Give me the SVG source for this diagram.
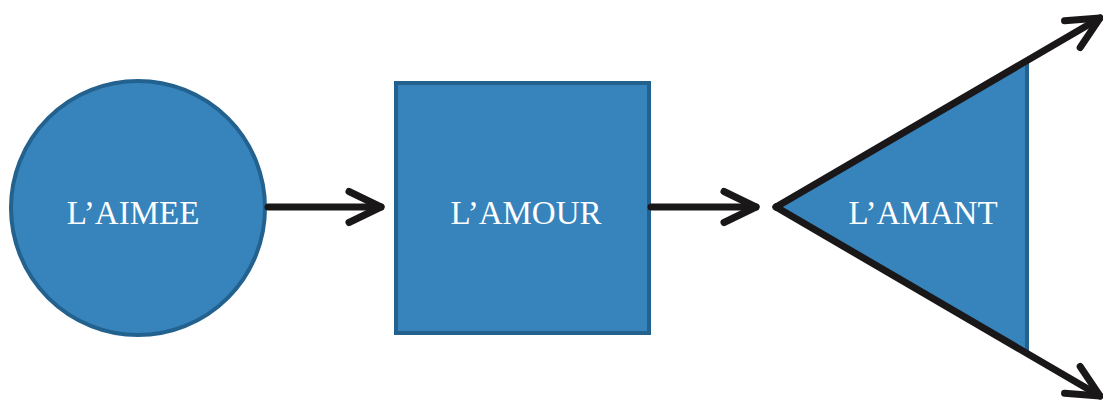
<svg xmlns="http://www.w3.org/2000/svg" width="1103" height="403" viewBox="0 0 1103 403">
<style>
.shape{fill:#3784bd;stroke:#23618f;stroke-width:4}
.lbl{font-family:"Liberation Serif","Times New Roman",serif;font-size:33px;fill:#ffffff;text-anchor:middle}
.conn{fill:none;stroke:#1a1718;stroke-width:7;stroke-linecap:round;stroke-linejoin:round}
</style>
<defs>
<marker id="chev" markerUnits="userSpaceOnUse" markerWidth="60" markerHeight="60" refX="0" refY="0" viewBox="-40 -30 60 60" orient="auto" overflow="visible">
<path d="M -32 -15.5 L 0 0 L -32 15.5" fill="none" stroke="#1a1718" stroke-width="7" stroke-linecap="round" stroke-linejoin="round"/>
</marker>
</defs>
<rect width="1103" height="403" fill="#ffffff"/>
<g id="node-aimee">
<circle class="shape" cx="138" cy="208" r="127"/>
<text class="lbl" x="133" y="224">L’AIMEE</text>
</g>
<g id="node-amant">
<polygon points="775,207 1027,62 1027,353" fill="#3784bd"/>
<line x1="1027" y1="62" x2="1027" y2="353" stroke="#23618f" stroke-width="4"/>
<text class="lbl" x="923" y="224">L’AMANT</text>
</g>
<g id="node-amour">
<rect class="shape" x="396" y="83" width="253" height="250"/>
<text class="lbl" x="526" y="224">L’AMOUR</text>
</g>
<g id="connectors">
<line class="conn" x1="268" y1="207" x2="381" y2="207" marker-end="url(#chev)"/>
<line class="conn" x1="651" y1="207" x2="756" y2="207" marker-end="url(#chev)"/>
<line class="conn" x1="776" y1="207" x2="1100" y2="18" marker-end="url(#chev)"/>
<line class="conn" x1="776" y1="207" x2="1100" y2="396" marker-end="url(#chev)"/>
</g>
</svg>
